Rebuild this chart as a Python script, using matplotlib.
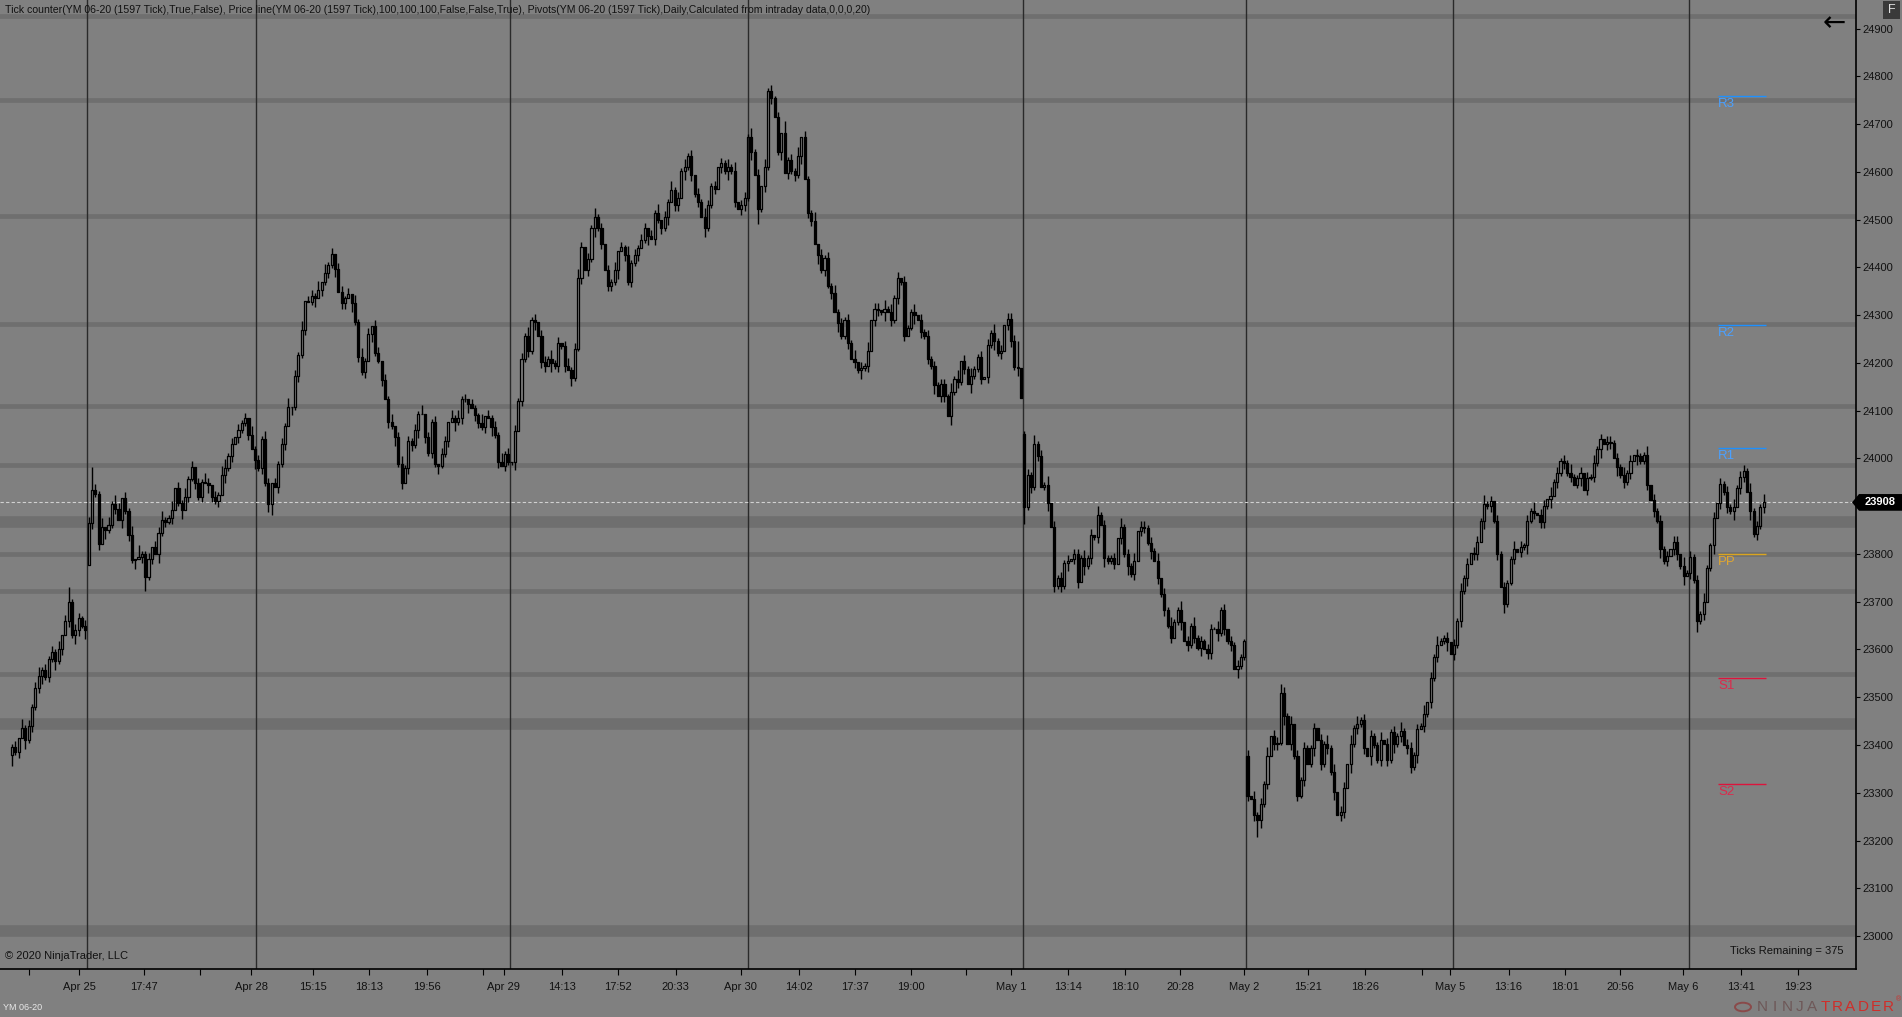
"""
YM 06-20 tick chart, redrawn in the NinjaTrader look
"""

import matplotlib
matplotlib.use("Agg")
import matplotlib.pyplot as plt
from matplotlib.collections import LineCollection, PolyCollection
from matplotlib.patches import Polygon, Rectangle, Circle
from matplotlib.transforms import blended_transform_factory

# --- data --------------------------------------------------------------
CLOSES = [
    23396, 23385, 23415, 23436, 23410, 23440, 23480, 23520, 23545, 23557,
    23543, 23580, 23595, 23575, 23600, 23630, 23660, 23700, 23630, 23641,
    23665, 23650, 23641, 23865, 23934, 23925, 23820, 23857, 23850, 23860,
    23905, 23895, 23872, 23917, 23890, 23840, 23787, 23790, 23794, 23800,
    23752, 23790, 23815, 23800, 23844, 23871, 23868, 23875, 23892, 23938,
    23907, 23892, 23920, 23958, 23983, 23948, 23920, 23951, 23948, 23945,
    23920, 23910, 23924, 23966, 23980, 24005, 24030, 24045, 24060, 24075,
    24084, 24050, 24020, 23996, 23980, 24040, 23948, 23905, 23948, 23940,
    23988, 24030, 24068, 24108, 24108, 24173, 24217, 24270, 24329, 24327,
    24341, 24335, 24353, 24370, 24389, 24405, 24429, 24397, 24349, 24325,
    24335, 24345, 24325, 24285, 24213, 24181, 24205, 24261, 24277, 24221,
    24205, 24164, 24124, 24076, 24068, 24044, 23988, 23948, 23980, 24036,
    24028, 24060, 24093, 24093, 24044, 24012, 24076, 23988, 23985, 24010,
    24036, 24076, 24084, 24076, 24084, 24124, 24124, 24113, 24105, 24090,
    24075, 24066, 24089, 24085, 24066, 24049, 23993, 23985, 24009, 23993,
    23993, 24058, 24121, 24209, 24257, 24225, 24290, 24286, 24257, 24202,
    24193, 24209, 24200, 24193, 24242, 24235, 24193, 24185, 24169, 24230,
    24378, 24442, 24394, 24418, 24482, 24506, 24482, 24450, 24394, 24362,
    24370, 24394, 24434, 24442, 24426, 24370, 24410, 24426, 24440, 24458,
    24482, 24466, 24460, 24515, 24500, 24482, 24506, 24538, 24562, 24530,
    24546, 24602, 24610, 24634, 24594, 24554, 24538, 24506, 24482, 24530,
    24570, 24565, 24610, 24618, 24602, 24610, 24602, 24538, 24522, 24530,
    24546, 24674, 24642, 24594, 24522, 24570, 24610, 24770, 24754, 24714,
    24642, 24682, 24598, 24626, 24602, 24594, 24634, 24674, 24586, 24515,
    24498, 24450, 24426, 24394, 24420, 24362, 24346, 24306, 24283, 24257,
    24290, 24242, 24209, 24202, 24185, 24190, 24193, 24225, 24290, 24313,
    24310, 24306, 24313, 24306, 24290, 24336, 24378, 24370, 24257, 24274,
    24306, 24300, 24290, 24265, 24257, 24209, 24193, 24154, 24130, 24155,
    24130, 24089, 24139, 24167, 24160, 24205, 24188, 24155, 24172, 24188,
    24213, 24167, 24170, 24238, 24263, 24246, 24221, 24225, 24280, 24292,
    24246, 24192, 24190, 24127, 23898, 23965, 23940, 24031, 24006, 23940,
    23945, 23907, 23857, 23733, 23750, 23733, 23782, 23785, 23790, 23799,
    23741, 23791, 23775, 23791, 23840, 23835, 23882, 23860, 23791, 23785,
    23791, 23780, 23833, 23857, 23799, 23775, 23758, 23785, 23849, 23857,
    23855, 23824, 23807, 23785, 23750, 23716, 23683, 23650, 23625, 23658,
    23683, 23658, 23617, 23609, 23650, 23625, 23604, 23617, 23600, 23592,
    23642, 23642, 23635, 23683, 23642, 23617, 23609, 23559, 23565, 23584,
    23617, 23294, 23286, 23253, 23244, 23277, 23319, 23377, 23419, 23402,
    23405, 23509, 23460, 23402, 23443, 23377, 23294, 23327, 23394, 23360,
    23394, 23435, 23410, 23360, 23402, 23394, 23343, 23302, 23253, 23260,
    23310, 23360, 23402, 23435, 23443, 23452, 23394, 23377, 23419, 23400,
    23369, 23410, 23402, 23369, 23427, 23402, 23419, 23430, 23401, 23394,
    23353, 23380, 23433, 23440, 23465, 23490, 23540, 23585, 23610, 23618,
    23625, 23615, 23590, 23610, 23660, 23722, 23750, 23780, 23802, 23800,
    23825, 23870, 23905, 23900, 23910, 23870, 23800, 23730, 23695, 23740,
    23790, 23810, 23805, 23815, 23818, 23870, 23890, 23885, 23882, 23866,
    23900, 23915, 23922, 23950, 23970, 23995, 23990, 23970, 23962, 23945,
    23960, 23970, 23935, 23960, 23962, 23990, 24020, 24040, 24030, 24035,
    24032, 24000, 23982, 23965, 23950, 23970, 23995, 24008, 24005, 23995,
    24008, 23945, 23914, 23890, 23870, 23810, 23786, 23795, 23810, 23826,
    23800, 23775, 23754, 23760, 23794, 23745, 23660, 23674, 23700, 23770,
    23818, 23875, 23906, 23947, 23930, 23898, 23890, 23898, 23938, 23962,
    23974, 23930, 23890, 23842, 23858, 23898, 23908,
]
FIRST_OPEN = 23380
GAP_OPENS = {23: 23777, 304: 24052, 371: 23377}

# wick lengths, one digit per bar, in steps of WICK_STEP points
UP_WICKS = "".join([
    "1203121231", "2121302512", "2122821303", "1320213041", "1202231130",
    "2131202132", "0213312021", "2031213202", "1213021302", "2130312022",
    "1203131202", "2021302312", "1213021202", "2031312021", "1302121312",
    "0212131202", "2131202312", "3202131202", "1302131212", "2021302131",
    "2131202132", "1202131302", "2131203121", "2041213021", "1302121312",
    "1213021302", "2031312021", "1302121212", "2131302131", "1202131202",
    "2290121312", "1302121202", "2131203121", "1203121302", "2121302131",
    "1302131212", "2131202121", "1203121302", "2321302121", "1202131302",
    "2031312021", "1302121312", "2121302131", "1202131202", "2131202121",
    "1302121302", "2031212131", "1202131202", "2121312021", "1302121202",
    "2031212131", "1202121312", "2131213",
])
DOWN_WICKS = "".join([
    "4120312123", "1213120213", "2130212031", "1203121302", "5120312120",
    "1302121203", "2120312021", "1203121340", "2120312120", "1302121302",
    "2031212031", "1202131202", "2130212131", "1203121302", "2120312021",
    "1302121302", "2031212031", "1202131202", "2130212120", "1302121302",
    "2031212031", "1202131202", "2130512120", "1302121302", "2031212031",
    "1202131202", "2130212120", "1302121302", "2031212031", "1202131202",
    "2130612120", "1302121302", "2031212031", "1202131202", "2130212120",
    "1302121302", "2031212031", "1202631202", "2130212120", "1302121302",
    "2031212031", "1202131202", "2130212120", "1302121302", "2031212031",
    "1202131202", "2130212120", "1302121302", "2031212031", "1202131202",
    "2130214120", "1302121302", "2031212",
])
WICK_STEP = 6

SESSION_BREAKS = [22.4, 73.4, 149.5, 220.9, 303.6, 370.6, 432.6, 503.7]

TICK_BARS = [5.0, 20.2, 39.6, 56.6, 71.9, 90.3, 107.1, 124.5, 141.4, 147.6,
             165.1, 181.9, 199.3, 218.8, 236.3, 253.0, 270.0, 286.4, 299.9,
             317.1, 334.2, 350.8, 369.9, 389.2, 406.2, 423.5, 431.9, 449.4,
             466.4, 483.0, 501.8, 519.2, 536.2]
TICK_LABELS = ["", "Apr 25", "17:47", "", "Apr 28", "15:15", "18:13", "19:56",
               "", "Apr 29", "14:13", "17:52", "20:33", "Apr 30", "14:02",
               "17:37", "19:00", "", "May 1", "13:14", "18:10", "20:28",
               "May 2", "15:21", "18:26", "", "May 5", "13:16", "18:01",
               "20:56", "May 6", "13:41", "19:23"]

LEVELS = [24927, 24750, 24508, 24281, 24109, 23986, 23868, 23799, 23722,
          23549, 23445, 23011]
HEAVY_LEVELS = [23868, 23445, 23011]

PIVOT_NAMES = ["R3", "R2", "R1", "PP", "S1", "S2"]
PIVOT_VALUES = [24759, 24279, 24021, 23799, 23540, 23318]
PIVOT_SPAN = (512.3, 526.7)

LAST_PRICE = 23908
TICKS_REMAINING = 375

HEADER = ("Tick counter(YM 06-20 (1597 Tick),True,False), "
          "Price line(YM 06-20 (1597 Tick),100,100,100,False,False,True), "
          "Pivots(YM 06-20 (1597 Tick),Daily,Calculated from intraday data,0,0,0,20)")

# --- figure ---------------------------------------------------------------
W, H = 1902, 1017
BG = "#808080"
SANS = ["Liberation Sans", "DejaVu Sans"]
plt.rcParams["font.family"] = ["Liberation Sans Narrow", "Liberation Sans", "DejaVu Sans"]

fig = plt.figure(figsize=(W / 100, H / 100), dpi=100, facecolor=BG)
ax = fig.add_axes([0, 1 - 968.5 / H, 1855.6 / W, 968.5 / H], facecolor=BG)
ax.set_xlim(-3.6, 553.6)
ax.set_ylim(22932, 24960)

# horizontal levels
for p in LEVELS:
    ax.axhline(p, color="#6f6f6f", lw=8.3 if p in HEAVY_LEVELS else 3.4, zorder=0.5)

# session separators
for b in SESSION_BREAKS:
    ax.axvline(b, color="#2a2a2a", lw=1.0, zorder=1)

# candles
opens = [FIRST_OPEN] + CLOSES[:-1]
for i, v in GAP_OPENS.items():
    opens[i] = v

bodies, faces, wicks = [], [], []
hw = 0.32
for i, (o, c) in enumerate(zip(opens, CLOSES)):
    top, bot = max(o, c), min(o, c)
    hi = top + int(UP_WICKS[i]) * WICK_STEP
    lo = bot - int(DOWN_WICKS[i]) * WICK_STEP
    bodies.append([(i - hw, bot), (i - hw, top), (i + hw, top), (i + hw, bot)])
    faces.append("none" if c >= o else "black")
    if hi > top:
        wicks.append([(i, top), (i, hi)])
    if lo < bot:
        wicks.append([(i, lo), (i, bot)])

ax.add_collection(LineCollection(wicks, colors="black", linewidths=1.0, zorder=3))
ax.add_collection(PolyCollection(bodies, facecolors=faces, edgecolors="black",
                                 linewidths=0.9, zorder=4))

# last price line
ax.axhline(LAST_PRICE, color="#d0d0d0", lw=0.8, ls=(0, (3, 2)), zorder=2)

# pivots
piv_colors = ["#1e90ff", "#1e90ff", "#1e90ff", "#daa520", "#dc143c", "#dc143c"]
txt_colors = ["#4aa0ff", "#4aa0ff", "#4aa0ff", "#e0a630", "#dc2a4c", "#dc2a4c"]
for name, val, lc, tc in zip(PIVOT_NAMES, PIVOT_VALUES, piv_colors, txt_colors):
    ax.plot(PIVOT_SPAN, [val, val], color=lc, lw=1.0, zorder=5, solid_capstyle="butt")
    ax.text(PIVOT_SPAN[0], val - 4, name, ha="left", va="top", color=tc,
            fontsize=9.5, family=SANS, zorder=6)

# axes styling
for s in ("top", "left"):
    ax.spines[s].set_visible(False)
for s in ("right", "bottom"):
    ax.spines[s].set_color("black")
    ax.spines[s].set_linewidth(1.2)

yticks = list(range(23000, 24901, 100))
ax.yaxis.tick_right()
ax.set_yticks(yticks)
# the 23900 label sits under the last-price marker
ax.set_yticklabels(["" if abs(v - LAST_PRICE) < 40 else str(v) for v in yticks])
ax.tick_params(axis="y", direction="out", length=3, width=0.8, color="black",
               labelsize=8, labelcolor="#111111", pad=2)
ax.set_xticks(TICK_BARS)
ax.set_xticklabels(TICK_LABELS)
ax.tick_params(axis="x", direction="out", length=4, width=0.8, color="black",
               labelsize=8, labelcolor="#111111", pad=6)
for lab in ax.get_xticklabels() + ax.get_yticklabels():
    lab.set_family(SANS)

# last price marker on the price axis
tr = blended_transform_factory(fig.transFigure, ax.transData)
h = 17.5
marker = Polygon([(1852 / W, LAST_PRICE), (1859 / W, LAST_PRICE + h), (1.0, LAST_PRICE + h),
                  (1.0, LAST_PRICE - h), (1859 / W, LAST_PRICE - h)],
                 closed=True, transform=tr, facecolor="black", edgecolor="none",
                 clip_on=False, zorder=10)
fig.add_artist(marker)
fig.text(1880 / W, 1 - 502 / H, str(LAST_PRICE), color="white", fontsize=8,
         fontweight="bold", ha="center", va="center", family=SANS, zorder=11)

# header and overlay texts
fig.text(5 / W, 1 - 10 / H, HEADER, fontsize=7.6, color="#111111", ha="left", va="center")
fig.text(5 / W, 1 - 956 / H, "\u00a9 2020 NinjaTrader, LLC", fontsize=8,
         color="#111111", ha="left", va="center")
fig.text(1843 / W, 1 - 951 / H, "Ticks Remaining = %d" % TICKS_REMAINING, fontsize=8,
         color="#111111", ha="right", va="center")
fig.text(3 / W, 1 - 1007 / H, "YM 06-20", fontsize=6.5, color="#e8e8e8",
         ha="left", va="center")

# top-right buttons
fig.text(1834 / W, 1 - 23 / H, "\u2190", fontsize=20, color="black", ha="center",
         va="center", family=["DejaVu Sans"])
fig.add_artist(Rectangle((1883 / W, 1 - 19 / H), 17 / W, 18 / H, transform=fig.transFigure,
                         facecolor="#3a3a3a", edgecolor="none"))
fig.text(1891.5 / W, 1 - 10 / H, "F", fontsize=9, color="#e0e0e0", ha="center",
         va="center", family=SANS)

# brand mark, letter by letter (wide tracking)
fig.add_artist(Circle((1743 / W, 1 - 1007 / H), 8 / W, transform=fig.transFigure,
                      facecolor="none", edgecolor="#8a4a4a", lw=1.4))
for k, ch in enumerate("NINJATRADER"):
    fig.text((1762 + 12.6 * k) / W, 1 - 1007 / H, ch, fontsize=11,
             color="#6e5858" if k < 5 else "#cf2e2a", ha="center", va="center",
             family=SANS)
fig.text(1898 / W, 1 - 1000 / H, "\u00ae", fontsize=5, color="#cf2e2a",
         ha="center", va="center", family=SANS)

fig.savefig("out.png", dpi=100, facecolor=BG)
